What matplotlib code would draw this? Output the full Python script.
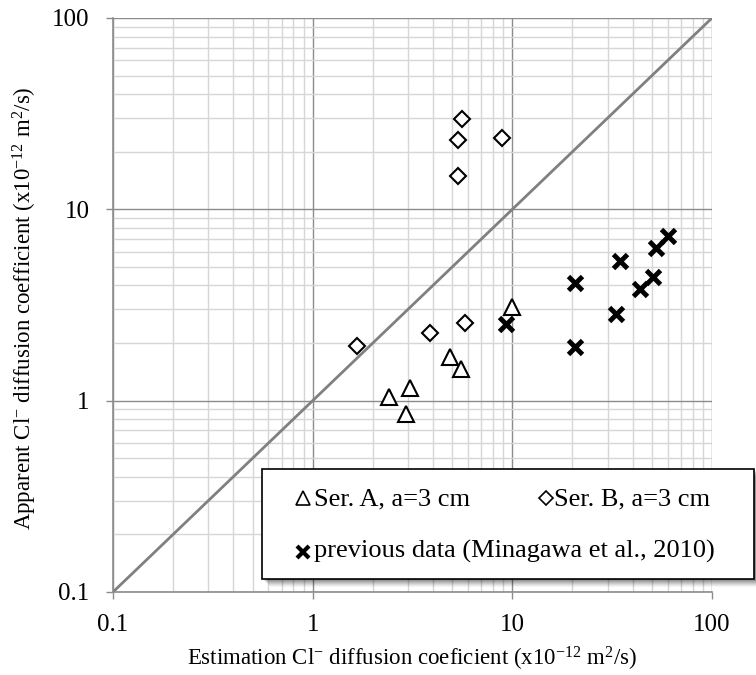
import matplotlib
matplotlib.use("Agg")
import matplotlib.pyplot as plt
from matplotlib.patches import Rectangle
from matplotlib.lines import Line2D
from matplotlib.ticker import LogLocator, FixedLocator, NullFormatter

plt.rcParams['font.family'] = ['Liberation Serif', 'DejaVu Serif']
plt.rcParams['mathtext.fontset'] = 'custom'
plt.rcParams['mathtext.rm'] = 'Liberation Serif'
plt.rcParams['mathtext.it'] = 'Liberation Serif:italic'

# Ser. A (triangles)
serA_x = [2.42, 2.93, 3.08, 4.86, 5.56, 9.95]
serA_y = [1.04, 0.85, 1.16, 1.70, 1.47, 3.08]
# Ser. B (diamonds)
serB_x = [1.67, 3.87, 5.82, 5.58, 5.33, 5.33, 8.87]
serB_y = [1.93, 2.25, 2.54, 29.7, 22.9, 15.0, 23.5]
# previous data (Minagawa et al., 2010)
prev_x = [9.33, 20.7, 20.7, 33.2, 34.7, 43.8, 50.9, 52.7, 60.3]
prev_y = [2.51, 4.10, 1.90, 2.83, 5.36, 3.82, 4.41, 6.31, 7.23]
# 1:1 line
line_x = [0.1, 100]
line_y = [0.1, 100]

tick_vals = [0.1, 1, 10, 100]
tick_labels = ['0.1', '1', '10', '100']
legend_labels = ['Ser. A, a=3 cm', 'Ser. B, a=3 cm', 'previous data (Minagawa et al., 2010)']

W, H = 756, 675
fig = plt.figure(figsize=(W/100, H/100), dpi=100)
L, R, T, B = 113, 712, 18, 592
ax = fig.add_axes([L/W, 1 - B/H, (R-L)/W, (B-T)/H])
ax.set_xscale('log')
ax.set_yscale('log')
ax.set_xlim(0.1, 100)
ax.set_ylim(0.1, 100)

major_c = '#8c8c8c'
minor_c = '#d6d6d6'
ax.xaxis.set_major_locator(FixedLocator(tick_vals))
ax.yaxis.set_major_locator(FixedLocator(tick_vals))
ax.set_xticklabels(tick_labels)
ax.set_yticklabels(tick_labels)
ax.xaxis.set_minor_locator(LogLocator(base=10, subs=range(2, 10)))
ax.yaxis.set_minor_locator(LogLocator(base=10, subs=range(2, 10)))
ax.xaxis.set_minor_formatter(NullFormatter())
ax.yaxis.set_minor_formatter(NullFormatter())
ax.grid(which='minor', color=minor_c, lw=1.0, zorder=0)
ax.grid(which='major', color=major_c, lw=1.0, zorder=0)
ax.set_axisbelow(True)
ax.tick_params(which='major', direction='out', length=5, width=1, color=major_c,
               labelsize=18)
ax.tick_params(axis='y', which='major', pad=12)
ax.tick_params(axis='x', which='major', pad=11)
ax.tick_params(which='minor', length=0)
for s in ['top', 'right']:
    ax.spines[s].set_visible(False)
for s in ['left', 'bottom']:
    ax.spines[s].set_color(major_c)
    ax.spines[s].set_linewidth(1.2)

ax.plot(line_x, line_y, color='#808080', lw=2, zorder=2)

ax.plot(serA_x, serA_y, ls='none', marker='^', ms=11, mfc='white', mec='black',
        mew=1.5, zorder=4)
ax.plot(serB_x, serB_y, ls='none', marker='D', ms=8.5, mfc='white', mec='black',
        mew=1.5, zorder=4)
ax.plot(prev_x, prev_y, ls='none', marker='x', ms=10, mec='black', mew=3.5, zorder=4)

xlab = ax.set_xlabel(r'Estimation Cl$^{\mathregular{-}}$ diffusion coeficient (x10$^{\mathregular{-12}}$ m$^{\mathregular{2}}$/s)',
                     fontsize=16.5)
ylab = ax.set_ylabel(r'Apparent Cl$^{\mathregular{-}}$ diffusion coefficient (x10$^{\mathregular{-12}}$ m$^{\mathregular{2}}$/s)',
                     fontsize=16.5)
ax.xaxis.set_label_coords((412 - L)/(R - L), (B - 659)/(B - T))
ax.yaxis.set_label_coords((25 - L)/(R - L), (B - 308)/(B - T))
xlab.set_va('center')
ylab.set_va('center')

# legend box with shadow (pixel coords -> figure coords)
def fx(px):
    return px / W
def fy(py):
    return 1 - py / H

lx0, ly0, lx1, ly1 = 262, 469, 754, 579
for i, a in enumerate([0.10, 0.10, 0.09, 0.08, 0.07, 0.06, 0.05, 0.04]):
    off = i + 1
    fig.patches.append(Rectangle((fx(lx0 + off), fy(ly1 + off)), (lx1 - lx0)/W, (ly1 - ly0)/H,
                                 transform=fig.transFigure, facecolor='black', edgecolor='none',
                                 alpha=a, zorder=9))
fig.patches.append(Rectangle((fx(lx0), fy(ly1)), (lx1 - lx0)/W, (ly1 - ly0)/H,
                             transform=fig.transFigure, facecolor='white', edgecolor='black',
                             lw=1.2, zorder=10))

fs_leg = 19
fig.add_artist(Line2D([fx(303)], [fy(498)], marker='^', ms=10, mfc='white', mec='black', mew=1.2,
                      transform=fig.transFigure, zorder=11))
fig.text(fx(314), fy(505), legend_labels[0], fontsize=fs_leg, va='baseline', ha='left', zorder=11)
fig.add_artist(Line2D([fx(546)], [fy(498)], marker='D', ms=7, mfc='white', mec='black', mew=1.2,
                      transform=fig.transFigure, zorder=11))
fig.text(fx(554), fy(505), legend_labels[1], fontsize=fs_leg, va='baseline', ha='left', zorder=11)
fig.add_artist(Line2D([fx(302.5)], [fy(551.5)], marker='x', ms=9, mec='black', mew=3,
                      transform=fig.transFigure, zorder=11))
fig.text(fx(314), fy(558), legend_labels[2], fontsize=fs_leg, va='baseline', ha='left', zorder=11)

fig.savefig('out.png', dpi=100)
